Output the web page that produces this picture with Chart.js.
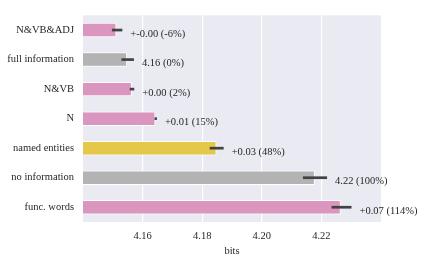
<!DOCTYPE html>
<html>
<head>
<meta charset="utf-8">
<script src="https://cdn.jsdelivr.net/npm/chart.js@4/dist/chart.umd.min.js"></script>
<style>
html,body{margin:0;padding:0;background:#fff;}
#wrap{width:426px;height:263px;}
</style>
</head>
<body>
<div id="wrap"><canvas id="c" width="426" height="263"></canvas></div>
<script>
// ---- data ----
const categories = ['N&VB&ADJ', 'full information', 'N&VB', 'N', 'named entities', 'no information', 'func. words'];
const values     = [4.1512, 4.1548, 4.1564, 4.1643, 4.1848, 4.2178, 4.2265];
const errLow     = [4.1497, 4.1529, 4.1557, 4.1640, 4.1825, 4.2138, 4.2234];
const errHigh    = [4.1532, 4.1571, 4.1572, 4.1648, 4.1872, 4.2219, 4.2301];
const annotations = ['+-0.00 (-6%)', '4.16 (0%)', '+0.00 (2%)', '+0.01 (15%)', '+0.03 (48%)', '4.22 (100%)', '+0.07 (114%)'];
const xTicks = [4.16, 4.18, 4.20, 4.22];
const xMin = 4.14, xMax = 4.24;

// ---- styles ----
const PINK = '#DB96C0', GRAY = '#B3B3B3', YELLOW = '#E5C849';
const barColors = [PINK, GRAY, PINK, PINK, YELLOW, GRAY, PINK];
const FONT = 'Liberation Serif';
const TEXT = '#262626';
Chart.defaults.font.family = FONT;
Chart.defaults.font.size = 10.5;
Chart.defaults.color = TEXT;

const bgPlugin = {
  id: 'bg',
  beforeDraw(chart) {
    const {ctx, chartArea: a} = chart;
    ctx.save();
    ctx.fillStyle = '#EAEAF2';
    ctx.fillRect(a.left, a.top, a.right - a.left, a.bottom - a.top);
    ctx.restore();
  }
};

const errPlugin = {
  id: 'err',
  afterDatasetsDraw(chart) {
    const {ctx} = chart;
    const xs = chart.scales.x;
    const meta = chart.getDatasetMeta(0);
    ctx.save();
    meta.data.forEach((bar, i) => {
      const y = bar.y;
      const x0 = xs.getPixelForValue(errLow[i]);
      const x1 = xs.getPixelForValue(errHigh[i]);
      ctx.strokeStyle = '#424242';
      ctx.lineWidth = 2.7;
      ctx.lineCap = 'butt';
      ctx.beginPath();
      ctx.moveTo(x0, y);
      ctx.lineTo(x1, y);
      ctx.stroke();
      ctx.fillStyle = TEXT;
      ctx.font = '10.5px "' + FONT + '"';
      ctx.textAlign = 'left';
      ctx.textBaseline = 'middle';
      ctx.fillText(annotations[i], x1 + 8, y + 4);
    });
    ctx.restore();
  }
};

new Chart(document.getElementById('c'), {
  type: 'bar',
  data: {
    labels: categories,
    datasets: [{
      data: values,
      backgroundColor: barColors,
      borderColor: '#ffffff',
      borderWidth: 1,
      borderSkipped: false,
      barPercentage: 0.49,
      categoryPercentage: 1.0
    }]
  },
  options: {
    indexAxis: 'y',
    responsive: false,
    animation: false,
    layout: {padding: {top: 6, right: 45, bottom: 0, left: 0}},
    plugins: {legend: {display: false}, tooltip: {enabled: false}},
    scales: {
      x: {
        min: xMin, max: xMax,
        afterBuildTicks(scale) { scale.ticks = xTicks.map(v => ({value: v})); },
        afterFit(scale) { scale.height = 41; },
        ticks: {padding: 8, color: TEXT, callback: v => Number(v).toFixed(2), font: {size: 10.5}},
        grid: {color: '#ffffff', lineWidth: 1.2, drawTicks: false},
        border: {display: false},
        title: {display: true, text: 'bits', color: TEXT, font: {size: 10.5}, padding: {top: 0, bottom: 5}}
      },
      y: {
        afterFit(scale) { scale.width = 83; },
        ticks: {padding: 9, color: TEXT, font: {size: 10.5}},
        grid: {display: false, drawTicks: false},
        border: {display: false}
      }
    }
  },
  plugins: [bgPlugin, errPlugin]
});
</script>
</body>
</html>
